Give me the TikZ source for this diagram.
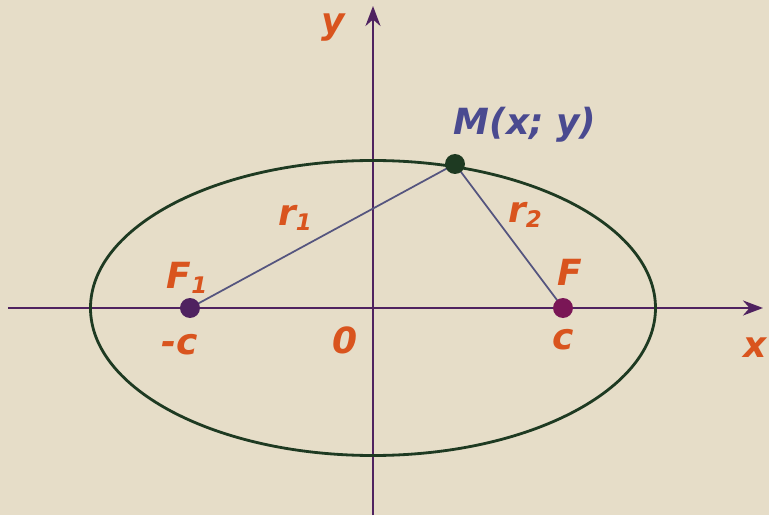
\documentclass[tikz,border=0pt]{standalone}
\usepackage{fontspec}
\newfontfamily\lblfont{DejaVu Sans}
\usetikzlibrary{arrows.meta}
\definecolor{paper}{HTML}{E6DDC8}
\definecolor{axiscol}{HTML}{4F2260}
\definecolor{curvecol}{HTML}{1E3A22}
\definecolor{segcol}{HTML}{55557F}
\definecolor{lblcol}{HTML}{D9541E}
\definecolor{ptcol}{HTML}{4A4A90}
\definecolor{fcol}{HTML}{7A1656}
\newcommand{\sub}[1]{{\fontsize{13}{13}\selectfont\raisebox{-0.45ex}{#1}}}
\begin{document}
\begin{tikzpicture}[x=2cm,y=2cm,axis/.style={line width=1.5pt,color=axiscol,-{Stealth[length=4mm,width=3mm]}},curve/.style={line width=1.6pt,color=curvecol},seg/.style={line width=1pt,color=segcol},dot/.style={circle,inner sep=0pt,minimum size=4mm},lbl/.style={font=\lblfont\bfseries\itshape\fontsize{20.5}{20}\selectfont,text=lblcol,inner sep=1pt}]
\fill[paper] (-3.73,-2.07) rectangle (3.96,3.08);
\useasboundingbox (-3.73,-2.07) rectangle (3.96,3.08);
\coordinate (O) at (0,0);
\coordinate (xstart) at (-3.65,0);
\coordinate (xend) at (3.90,0);
\coordinate (ystart) at (0,-2.07);
\coordinate (yend) at (0,3.02);
\coordinate (F1) at (-1.83,0);
\coordinate (F2) at (1.90,0);
\coordinate (M) at (0.82,1.44);
\draw[axis] (xstart) -- (xend);
\draw[axis] (ystart) -- (yend);
\draw[curve] (O) ellipse [x radius=2.825,y radius=1.475];
\draw[seg] (F1) -- (M);
\draw[seg] (M) -- (F2);
\node[dot,fill=curvecol] (m) at (M) {};
\node[dot,fill=axiscol] (f1) at (F1) {};
\node[dot,fill=fcol] (f2) at (F2) {};
\node[lbl] (ylab) at (-0.40,2.80) {y};
\node[lbl] (xlab) at (3.82,-0.40) {x};
\node[lbl,text=ptcol] (mlab) at (1.52,1.83) {M(x; y)};
\node[lbl] (r1lab) at (-0.78,0.90) {r\sub{1}};
\node[lbl] (r2lab) at (1.52,0.93) {r\sub{2}};
\node[lbl] (f1lab) at (-1.86,0.30) {F\sub{1}};
\node[lbl] (f2lab) at (1.97,0.36) {F};
\node[lbl] (mclab) at (-1.93,-0.37) {-c};
\node[lbl] (clab) at (1.90,-0.32) {c};
\node[lbl] (olab) at (-0.28,-0.32) {0};
\end{tikzpicture}
\end{document}
